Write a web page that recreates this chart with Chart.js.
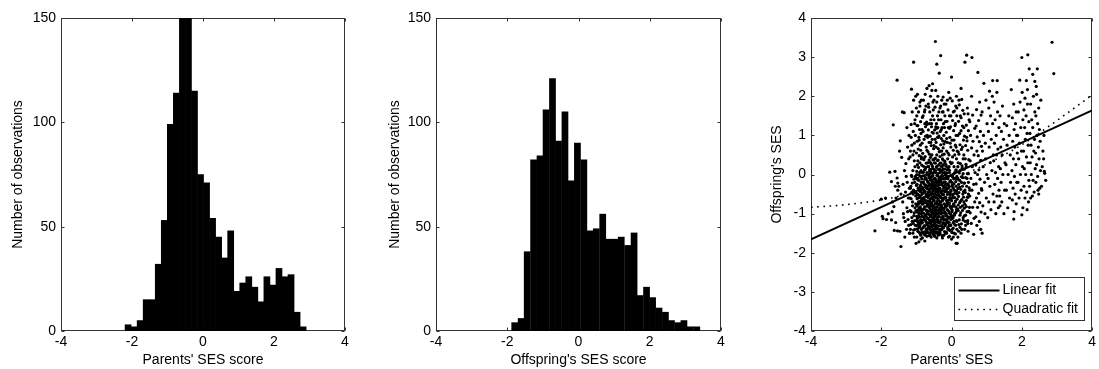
<!DOCTYPE html>
<html><head><meta charset="utf-8">
<script src="https://cdn.jsdelivr.net/npm/chart.js@4"></script>
<style>
html,body{margin:0;padding:0;background:#fff;width:1099px;height:369px;overflow:hidden}
canvas{position:absolute;top:0}
</style></head><body>
<canvas id="c1" width="365" height="369" style="left:0"></canvas>
<canvas id="c2" width="370" height="369" style="left:370px"></canvas>
<canvas id="c3" width="359" height="369" style="left:740px"></canvas>
<script>
// ---------- data ----------
const xTicks = [-4, -2, 0, 2, 4];
const histYTicks = [0, 50, 100, 150];
const scatterYTicks = [-4, -3, -2, -1, 0, 1, 2, 3, 4];

const hist1BinCenters = [-2.11,-1.94,-1.77,-1.60,-1.43,-1.26,-1.09,-0.92,-0.75,-0.58,-0.41,-0.24,-0.07,0.10,0.27,0.44,0.61,0.78,0.95,1.12,1.29,1.46,1.63,1.80,1.97,2.14,2.31,2.48,2.65,2.82];
const hist1Counts = [3,2,5,15,15,32,53,99,114,160,158,115,75,71,54,45,35,48,19,23,26,21,14,26,22,30,26,27,9,2];

const hist2BinCenters = [-1.79,-1.61,-1.44,-1.26,-1.08,-0.91,-0.73,-0.56,-0.38,-0.20,-0.03,0.15,0.32,0.50,0.68,0.85,1.03,1.20,1.38,1.56,1.73,1.91,2.08,2.26,2.44,2.61,2.79,2.96,3.14,3.32];
const hist2Counts = [4,6,38,82,84,106,121,91,105,72,90,82,48,49,56,44,44,45,41,47,17,21,16,11,9,5,4,5,2,2];

const linearFitX = [-4, 4];
const linearFitY = [-1.66, 1.64];
const quadFitX = [-4, -3, -2, -1, 0, 1, 2, 3, 4];
const quadFitY = [-0.84, -0.77, -0.65, -0.44, -0.13, 0.27, 0.76, 1.38, 2.03];

const histLabels = ["Parents' SES score", "Offspring's SES score"];
const histYLabel = "Number of observations";
const scatterXLabel = "Parents' SES";
const scatterYLabel = "Offspring's SES";
const legendLabels = ["Linear fit", "Quadratic fit"];

// [parents' SES, offspring's SES] in hundredths
const scatterPoints = [
[-218,-144],[-200,-63],[-197,-107],[-195,-113],[-188,-60],[-180,-100],[-185,-115],[-176,6],[-171,-18],[-164,-82],[-169,-95],[-171,-116],[-166,127],[-155,241],[-161,8],[-155,-9],[-153,-22],[-159,-123],[-163,-143],[-154,-144],[-158,-60],[-153,-40],[-168,-70],[-160,-30],
[-150,-30],[-148,60],[-146,86],[-144,-50],[-142,44],[-140,160],[-139,-70],[-137,-100],[-135,158],[-134,10],[-132,-120],[-131,-45],[-130,28],[-128,-140],[-127,-85],[-126,-20],[-125,70],[-124,-115],[-123,-60],[-122,40],[-121,100],[-120,-150],[-138,-25],[-133,-160],[-129,-5],[-127,120],[-125,-95],[-122,-130],[-136,-110],[-120,-35],[-144,-184],[-147,-145],
[-118,-60],[-117,-140],[-116,-30],[-115,128],[-115,-95],[-114,218],[-113,-5],[-112,160],[-112,-120],[-111,-70],[-110,50],[-110,-150],[-108,287],[-108,-40],[-108,190],[-107,-105],[-106,80],[-106,-160],[-105,-20],[-105,130],[-104,-85],[-104,20],[-103,-130],[-103,100],[-102,-55],[-102,200],[-101,-176],[-101,-10],[-117,60],[-113,-45],[-109,-125],[-106,35],
[-93,-172],[-87,-165],[-99,-160],[-90,-150],[-96,-145],[-86,-140],[-92,-135],[-100,-130],[-89,-125],[-95,-120],[-88,-118],[-97,-112],[-91,-108],[-94,-105],[-86,-100],[-98,-96],[-90,-92],[-87,-88],[-93,-85],[-99,-80],[-96,-76],[-88,-72],[-92,-70],[-85,-65],[-97,-60],[-90,-56],[-94,-52],[-100,-48],[-87,-44],[-91,-40],[-95,-35],[-89,-30],[-98,-25],[-86,-20],[-93,-15],[-96,-10],[-88,-5],[-99,0],[-91,5],[-87,10],[-94,18],[-97,25],[-90,30],[-86,40],[-92,48],[-100,55],[-95,65],[-89,75],[-98,85],[-93,95],[-87,105],[-91,115],[-96,125],[-88,135],[-99,150],[-94,160],[-90,175],[-86,190],[-97,205],
[-76,-170],[-83,-162],[-70,-158],[-79,-152],[-72,-150],[-84,-148],[-74,-145],[-69,-140],[-81,-136],[-77,-132],[-71,-128],[-85,-124],[-73,-120],[-80,-116],[-68,-112],[-78,-110],[-82,-108],[-75,-104],[-70,-100],[-84,-96],[-72,-92],[-79,-88],[-76,-84],[-69,-80],[-83,-76],[-74,-72],[-80,-70],[-71,-68],[-77,-64],[-85,-60],[-73,-56],[-68,-52],[-81,-48],[-75,-44],[-79,-40],[-70,-36],[-84,-32],[-72,-28],[-78,-24],[-82,-20],[-69,-16],[-76,-12],[-74,-8],[-83,-4],[-71,0],[-80,6],[-77,12],[-73,18],[-85,24],[-68,30],[-79,38],[-75,46],[-82,54],[-70,62],[-72,70],[-84,80],[-78,90],[-69,100],[-81,110],[-74,122],[-76,130],[-71,134],[-83,146],[-77,160],[-73,175],[-80,190],[-75,205],[-70,220],
[-58,-160],[-64,-156],[-53,-152],[-61,-150],[-67,-148],[-55,-144],[-60,-142],[-52,-140],[-66,-136],[-57,-134],[-63,-132],[-51,-128],[-59,-126],[-65,-124],[-54,-120],[-62,-118],[-56,-116],[-67,-112],[-53,-110],[-60,-108],[-58,-104],[-64,-102],[-51,-100],[-57,-96],[-66,-94],[-55,-92],[-61,-88],[-52,-86],[-63,-84],[-59,-80],[-54,-78],[-65,-76],[-56,-72],[-62,-70],[-67,-68],[-53,-64],[-60,-62],[-57,-60],[-51,-56],[-64,-54],[-58,-52],[-55,-48],[-66,-46],[-61,-44],[-52,-40],[-63,-38],[-59,-36],[-54,-32],[-65,-30],[-57,-28],[-62,-24],[-53,-22],[-67,-20],[-56,-16],[-60,-14],[-51,-12],[-64,-8],[-58,-6],[-55,-4],[-66,0],[-61,2],[-52,4],[-63,8],[-59,12],[-54,16],[-65,20],[-57,26],[-62,32],[-53,38],[-60,44],[-56,50],[-67,58],[-51,66],[-58,74],[-64,82],[-55,90],[-61,98],[-52,106],[-66,114],[-57,122],[-63,130],[-59,140],[-54,150],[-62,160],[-65,172],[-53,185],[-60,200],[-56,215],[-64,227],[-54,232],
[-42,-162],[-48,-158],[-36,-154],[-45,-150],[-39,-148],[-50,-146],[-34,-142],[-44,-140],[-41,-138],[-47,-134],[-37,-132],[-43,-130],[-49,-126],[-35,-124],[-40,-122],[-46,-118],[-38,-116],[-50,-114],[-42,-110],[-35,-108],[-47,-106],[-44,-102],[-39,-100],[-36,-98],[-48,-94],[-41,-92],[-45,-90],[-34,-86],[-43,-84],[-49,-82],[-37,-78],[-40,-76],[-46,-74],[-42,-70],[-35,-68],[-50,-66],[-38,-62],[-44,-60],[-47,-58],[-36,-54],[-41,-52],[-48,-50],[-39,-46],[-45,-44],[-34,-42],[-43,-38],[-37,-36],[-49,-34],[-40,-30],[-46,-28],[-35,-26],[-42,-22],[-50,-20],[-38,-18],[-44,-14],[-47,-10],[-36,-6],[-41,-2],[-39,2],[-48,6],[-45,10],[-34,14],[-43,18],[-37,24],[-49,30],[-40,36],[-46,42],[-42,50],[-35,58],[-38,66],[-50,74],[-44,82],[-47,90],[-37,95],[-36,98],[-41,106],[-48,114],[-39,120],[-45,122],[-43,130],[-50,140],[-40,150],[-36,160],[-47,172],[-42,185],[-39,200],[-45,215],[-35,259],[-42,282],[-46,340],
[-27,-156],[-33,-151],[-20,-146],[-29,-141],[-23,-136],[-31,-131],[-18,-128],[-25,-126],[-32,-121],[-21,-116],[-28,-111],[-17,-106],[-30,-101],[-24,-98],[-19,-96],[-33,-91],[-26,-88],[-22,-86],[-29,-81],[-18,-76],[-31,-71],[-25,-66],[-20,-61],[-27,-60],[-32,-56],[-23,-51],[-30,-46],[-19,-44],[-26,-41],[-33,-36],[-21,-31],[-28,-26],[-17,-25],[-24,-21],[-31,-16],[-22,-11],[-29,-6],[-18,-1],[-25,4],[-32,9],[-20,14],[-27,19],[-23,24],[-30,29],[-19,34],[-26,40],[-33,46],[-21,52],[-28,60],[-24,68],[-31,76],[-18,84],[-25,86],[-29,92],[-22,100],[-32,110],[-20,120],[-27,120],[-23,130],[-30,140],[-19,150],[-26,160],[-33,170],[-21,180],[-28,190],[-24,198],[-31,304],
[-9,-160],[-14,-150],[-5,-143],[-11,-136],[-2,-129],[-16,-125],[-7,-122],[-12,-115],[-3,-108],[-15,-101],[-8,-94],[-1,-87],[-13,-80],[-6,-73],[-10,-66],[-16,-59],[-4,-52],[-11,-45],[-2,-40],[-14,-38],[-7,-31],[-12,-24],[-3,-17],[-15,-10],[-9,-5],[-1,-3],[-13,4],[-6,11],[-10,18],[-16,25],[-4,32],[-11,40],[-7,50],[-14,60],[-2,70],[-12,82],[-5,95],[-15,108],[-9,120],[-3,122],[-13,136],[-6,150],[-10,165],[-16,180],[-4,195],[-8,210],
[-88,-155],[-75,-155],[-62,-155],[-50,-155],[-38,-155],[-22,-155],
[-93,-147],[-80,-147],[-68,-147],[-57,-147],[-45,-147],[-33,-147],[-15,-147],
[-97,-139],[-85,-139],[-72,-139],[-61,-139],[-49,-139],[-40,-139],[-27,-139],[-8,-139],
[-90,-131],[-78,-131],[-66,-131],[-54,-131],[-43,-131],[-30,-131],[-18,-131],[-3,-131],
[-95,-123],[-83,-123],[-71,-123],[-59,-123],[-47,-123],[-36,-123],[-24,-123],[-10,-123],[5,-123],
[-88,-115],[-76,-115],[-64,-115],[-52,-115],[-41,-115],[-29,-115],[-16,-115],[-2,-115],
[-99,-107],[-84,-107],[-72,-107],[-60,-107],[-49,-107],[-37,-107],[-25,-107],[-12,-107],[3,-107],
[-92,-99],[-79,-99],[-67,-99],[-55,-99],[-44,-99],[-32,-99],[-20,-99],[-6,-99],[10,-99],
[-96,-91],[-83,-91],[-71,-91],[-59,-91],[-48,-91],[-36,-91],[-23,-91],[-11,-91],[2,-91],
[-89,-83],[-76,-83],[-64,-83],[-53,-83],[-41,-83],[-29,-83],[-17,-83],[-4,-83],[12,-83],
[-94,-75],[-81,-75],[-69,-75],[-57,-75],[-46,-75],[-34,-75],[-21,-75],[-9,-75],[6,-75],
[-87,-67],[-74,-67],[-62,-67],[-51,-67],[-39,-67],[-27,-67],[-14,-67],[0,-67],
[-92,-59],[-79,-59],[-67,-59],[-55,-59],[-43,-59],[-31,-59],[-19,-59],[-5,-59],[9,-59],
[-85,-51],[-72,-51],[-60,-51],[-48,-51],[-37,-51],[-25,-51],[-12,-51],[3,-51],
[-90,-43],[-77,-43],[-65,-43],[-53,-43],[-41,-43],[-29,-43],[-16,-43],[-2,-43],[13,-43],
[-83,-35],[-70,-35],[-58,-35],[-46,-35],[-34,-35],[-22,-35],[-9,-35],
[-88,-27],[-75,-27],[-63,-27],[-51,-27],[-39,-27],[-27,-27],[-14,-27],[2,-27],
[-80,-19],[-67,-19],[-55,-19],[-43,-19],[-31,-19],[-18,-19],[-5,-19],
[-85,-11],[-72,-11],[-60,-11],[-48,-11],[-36,-11],[-23,-11],[-10,-11],[6,-11],
[-78,-3],[-65,-3],[-53,-3],[-41,-3],[-28,-3],[-15,-3],[0,-3],
[-83,5],[-70,5],[-58,5],[-46,5],[-33,5],[-20,5],[-6,5],
[-75,13],[-62,13],[-50,13],[-37,13],[-24,13],[-10,13],
[-80,21],[-67,21],[-54,21],[-42,21],[-29,21],[-15,21],
[-72,29],[-59,29],[-46,29],[-33,29],[-19,29],
[-64,37],[-51,37],[-38,37],[-24,37],
[-119,-150],[-116,-128],[-113,-110],[-118,-92],[-111,-80],[-115,-62],[-109,-50],[-117,-35],[-112,-22],[-107,-12],[-114,-2],[-110,10],[-104,-140],[-100,-118],[-106,-98],[-102,-75],[-98,-62],[-104,-45],[-100,-28],[-96,-14],[-103,-5],[-99,8],[-108,-142],[-105,-118],[-101,-92],[-97,-50],[-95,-130],[-94,-70],[-93,-35],[-92,-2],
[1,-148],[5,-137],[9,-128],[14,-118],[3,-112],[8,-104],[13,-96],[17,-88],[2,-82],[6,-76],[11,-68],[16,-63],[20,-145],[24,-135],[28,-126],[33,-110],[22,-116],[26,-98],[31,-92],[36,-86],[19,-78],[23,-72],[29,-64],[34,-58],[40,-104],[44,-95],[38,-76],[42,-66],[47,-58],[51,-84],[4,-55],[9,-48],[14,-42],[18,-36],[1,-30],[7,-24],[12,-18],[17,-12],[21,-46],[26,-38],[31,-30],[35,-22],[23,-15],[28,-6],[33,2],[38,-40],[43,-30],[48,-20],[40,-8],[45,2],[3,-6],[8,4],[13,12],[18,20],[24,10],[30,22],[36,14],[42,20],[48,-50],[52,-40],[5,-160],[11,-152],[27,-150],[37,-140],[46,-125],[15,-140],[32,-50],[25,-84],[39,-120],[20,-25],
[-32,-140],[-26,-133],[-20,-125],[-14,-118],[-8,-110],[-2,-102],[-30,-95],[-24,-88],[-18,-80],[-12,-72],[-6,-64],[-33,-57],[-27,-50],[-21,-42],[-15,-34],[-9,-26],[-3,-18],[-31,-12],[-25,-4],[-19,4],[-13,12],[-7,20],[-1,28],[-29,-78],[-23,-113],[-17,-150],[-11,-8],[-5,-48],[-28,10],[-16,-100],[-10,-140],[-4,-80],[-22,-30],[-34,-20],[-7,-130],[-1,-60],[-19,-58],[-13,-90],[-26,-162],[-6,-158],
[-118,45],[-113,75],[-109,110],[-104,140],[-100,170],[-96,35],[-92,88],[-88,62],[-84,115],[-81,150],[-78,42],[-74,98],[-70,128],[-66,180],[-63,52],[-59,82],[-55,108],[-52,165],[-48,40],[-44,70],[-40,95],[-37,140],[-33,60],[-29,115],[-26,50],[-22,78],[-18,135],[-14,92],[-10,55],[-6,118],[-2,150],[3,45],[7,88],[11,130],[15,170],[19,58],[23,105],[27,145],[31,70],[35,120],[39,40],[43,95],[47,155],[-115,95],[-107,60],[-98,125],[-90,185],[-86,45],[-76,165],[-68,95],[-57,130],[-50,190],[-42,118],[-31,175],[-24,160],[-12,190],[-4,80],[5,160],[13,70],[21,190],
[0,249],[13,-176],[16,-176],[0,-165],[7,-150],[2,-140],[12,-130],[15,-120],[4,-110],[9,-100],[1,-95],[14,-90],[6,-80],[11,-70],[3,-60],[16,-50],[8,-40],[5,-35],[13,-30],[1,-20],[10,-10],[15,-5],[4,0],[12,10],[7,20],[2,30],[14,40],[9,50],[16,60],[5,62],[11,75],[1,88],[13,100],[6,112],[10,125],[3,138],[15,150],[8,162],[12,175],[2,188],[14,200],[7,-120],
[27,220],[18,-160],[29,-140],[21,-128],[33,-116],[24,-104],[19,-92],[31,-80],[26,-68],[20,-56],[34,-44],[23,-32],[28,-20],[18,-10],[32,-8],[22,4],[30,16],[25,28],[19,30],[33,40],[21,52],[28,64],[24,76],[34,88],[18,100],[27,112],[31,124],[20,136],[25,150],[32,164],[22,178],[29,192],
[38,287],[43,305],[47,-145],[40,-130],[46,-118],[36,-106],[49,-94],[42,-82],[35,-70],[45,-58],[39,-46],[50,-34],[37,-22],[44,-10],[48,2],[36,14],[41,26],[49,38],[35,50],[46,62],[40,74],[44,86],[37,98],[48,112],[42,126],[50,140],[36,155],[45,170],
[58,299],[63,-153],[56,-125],[64,-112],[53,-98],[60,-84],[66,-70],[52,-55],[58,-40],[63,-25],[55,-10],[67,5],[59,20],[53,35],[64,50],[57,68],[61,85],[54,100],[66,118],[52,135],[60,152],[57,200],
[75,261],[83,-140],[72,-130],[79,-120],[69,-108],[84,-96],[74,-84],[80,-72],[71,-60],[77,-48],[85,-36],[70,-24],[81,-12],[74,0],[78,12],[69,24],[83,36],[76,48],[72,60],[85,72],[79,84],[73,96],[82,110],[70,124],[77,138],[84,152],[71,166],[80,185],
[92,233],[87,-150],[95,-100],[89,-80],[99,-60],[86,-40],[94,-20],[100,0],[90,20],[97,40],[88,60],[96,80],[91,100],[101,130],[87,160],[98,190],
[117,240],[103,-110],[112,-90],[106,-70],[118,-50],[109,-30],[104,-10],[115,10],[110,30],[119,50],[107,70],[113,90],[105,110],[117,130],[111,150],[106,170],[116,200],[108,213],
[130,240],[126,-100],[133,-85],[121,-70],[129,-55],[135,-40],[123,-25],[131,-10],[125,5],[134,20],[120,35],[128,50],[132,65],[122,80],[127,100],[135,120],[124,140],[131,160],[121,185],[129,210],
[138,-80],[149,-100],[143,-70],[137,-55],[151,-40],[141,-20],[146,0],[139,15],[152,30],[144,50],[140,70],[148,90],[142,110],[150,130],[138,150],[145,175],
[170,217],[160,-85],[165,-60],[156,-40],[168,-20],[161,0],[155,25],[167,50],[158,75],[164,100],[157,125],[163,150],
[177,-114],[178,-95],[184,-75],[173,-65],[181,-50],[175,-35],[186,-20],[179,-5],[172,10],[183,25],[176,40],[187,55],[180,70],[174,85],[185,100],[178,115],[182,130],[173,145],[184,160],[177,180],
[194,241],[200,299],[200,-103],[203,-85],[192,-60],[198,-40],[189,-20],[196,0],[202,20],[191,40],[199,60],[193,80],[188,100],[197,120],[203,140],[190,160],[195,185],[201,210],
[217,306],[221,270],[216,217],[215,-90],[219,-70],[209,-60],[214,-45],[206,-30],[220,-15],[211,0],[207,15],[217,30],[213,45],[205,60],[218,75],[210,90],[215,105],[208,120],[220,135],[212,150],[206,165],[216,180],[209,195],[213,240],
[231,256],[237,238],[230,-55],[225,-60],[235,-45],[222,-30],[232,-15],[227,0],[238,15],[224,30],[229,45],[234,60],[226,75],[236,90],[223,105],[231,120],[228,140],[237,160],[225,180],[233,200],
[244,270],[241,225],[248,-50],[246,-40],[251,-35],[240,-20],[245,-5],[253,10],[242,25],[249,40],[239,55],[247,70],[252,85],[243,100],[250,115],[245,130],[240,150],[248,170],[254,190],[242,205],
[265,3],[264,8],[258,20],[262,40],[268,-15],[260,60],[256,-30],[263,100],
[286,338],[291,258]
];

// ---------- style ----------
const FONT = {family: "'Liberation Sans', Arial, Helvetica, sans-serif", size: 14};
const AXIS_COLOR = '#333';
Chart.defaults.font = FONT;
Chart.defaults.color = '#000';
Chart.defaults.animation = false;

const frameTicks = {
  id: 'frameTicks',
  beforeDatasetsDraw(chart) {
    const {ctx, chartArea: a, scales} = chart;
    const L = Math.round(a.left) + 0.5, R = Math.round(a.right) - 0.5;
    const T = Math.round(a.top) + 0.5, B = Math.round(a.bottom) - 0.5;
    ctx.save();
    ctx.strokeStyle = AXIS_COLOR; ctx.lineWidth = 1;
    ctx.beginPath();
    const tl = 3;
    scales.x.ticks.forEach(t => {
      const px = Math.round(scales.x.getPixelForValue(t.value)) + 0.5;
      ctx.moveTo(px, B); ctx.lineTo(px, B - tl);
      ctx.moveTo(px, T); ctx.lineTo(px, T + tl);
    });
    scales.y.ticks.forEach(t => {
      const py = Math.round(scales.y.getPixelForValue(t.value)) + 0.5;
      ctx.moveTo(L, py); ctx.lineTo(L + tl, py);
      ctx.moveTo(R, py); ctx.lineTo(R - tl, py);
    });
    ctx.stroke();
    ctx.strokeRect(L, T, R - L, B - T);
    ctx.restore();
  }
};

function xScale(title, h) {
  return {
    type: 'linear', min: -4, max: 4, offset: false,
    grid: {display: false, drawTicks: false}, border: {display: false},
    afterBuildTicks: s => { s.ticks = xTicks.map(v => ({value: v})); },
    ticks: {padding: 3, color: '#000', font: FONT, maxRotation: 0, callback: v => String(v)},
    title: {display: true, text: title, color: '#000', font: FONT, padding: {top: 0, bottom: 0}},
    afterFit: s => { s.height = h; }
  };
}
function yScale(title, min, max, tickVals, w, tpad) {
  return {
    type: 'linear', min, max,
    grid: {display: false, drawTicks: false}, border: {display: false},
    afterBuildTicks: s => { s.ticks = tickVals.map(v => ({value: v})); },
    ticks: {padding: 5, color: '#000', font: FONT, callback: v => String(v)},
    title: {display: true, text: title, color: '#000', font: FONT, padding: {top: tpad, bottom: 0}},
    afterFit: s => { s.width = w; }
  };
}

function histChart(id, centers, counts, xTitle, yW, tpad, padRight) {
  new Chart(document.getElementById(id), {
    type: 'bar',
    data: {datasets: [{
      data: centers.map((c, i) => ({x: c, y: counts[i]})),
      backgroundColor: '#000', borderWidth: 0, barPercentage: 1, categoryPercentage: 1,
      clip: 0
    }]},
    options: {
      responsive: false, animation: false,
      layout: {padding: {left: 0, right: padRight, top: 18, bottom: 0}},
      plugins: {legend: {display: false}, tooltip: {enabled: false}},
      scales: {
        x: xScale(xTitle, 38),
        y: yScale(histYLabel, 0, 150, histYTicks, yW, tpad)
      }
    },
    plugins: [frameTicks]
  });
}

histChart('c1', hist1BinCenters, hist1Counts, histLabels[0], 61, 10, 20);
histChart('c2', hist2BinCenters, hist2Counts, histLabels[1], 66, 17, 19);

const legendBox = {
  id: 'legendBox',
  afterDatasetsDraw(chart) {
    const {ctx, chartArea: a} = chart;
    const w = 130, h = 43;
    const x0 = Math.round(a.right - 8 - w) + 0.5, y0 = Math.round(a.bottom - 11 - h) + 0.5;
    ctx.save();
    ctx.fillStyle = '#fff';
    ctx.fillRect(x0, y0, w, h);
    ctx.strokeStyle = AXIS_COLOR; ctx.lineWidth = 1;
    ctx.strokeRect(x0, y0, w, h);
    const ds = chart.data.datasets;
    [0, 1].forEach(i => {
      const y = y0 + 13 + i * 19;
      ctx.beginPath();
      ctx.strokeStyle = '#000';
      ctx.lineWidth = ds[i].borderWidth;
      ctx.setLineDash(ds[i].borderDash || []);
      ctx.moveTo(x0 + 4, y); ctx.lineTo(x0 + 45, y);
      ctx.stroke();
      ctx.setLineDash([]);
      ctx.fillStyle = '#000';
      ctx.font = `${FONT.size}px ${FONT.family}`;
      ctx.textBaseline = 'middle'; ctx.textAlign = 'left';
      ctx.fillText(ds[i].label, x0 + 48, y);
    });
    ctx.restore();
  }
};

new Chart(document.getElementById('c3'), {
  type: 'scatter',
  data: {datasets: [
    {label: legendLabels[0], data: linearFitX.map((x, i) => ({x, y: linearFitY[i]})),
     showLine: true, borderColor: '#000', borderWidth: 2, pointRadius: 0, fill: false},
    {label: legendLabels[1], data: quadFitX.map((x, i) => ({x, y: quadFitY[i]})),
     showLine: true, borderColor: '#000', borderWidth: 1.6, borderDash: [1.6, 4.6], pointRadius: 0,
     cubicInterpolationMode: 'monotone', fill: false},
    {label: 'data', data: scatterPoints.map(p => ({x: p[0] / 100, y: p[1] / 100})),
     pointRadius: 1.6, pointBackgroundColor: '#000', pointBorderWidth: 0, showLine: false}
  ]},
  options: {
    responsive: false, animation: false,
    layout: {padding: {left: 0, right: 3, top: 18, bottom: 0}},
    plugins: {legend: {display: false}, tooltip: {enabled: false}},
    scales: {
      x: xScale(scatterXLabel, 38),
      y: yScale(scatterYLabel, -4, 4, scatterYTicks, 71, 29)
    }
  },
  plugins: [frameTicks, legendBox]
});
</script>
</body></html>
